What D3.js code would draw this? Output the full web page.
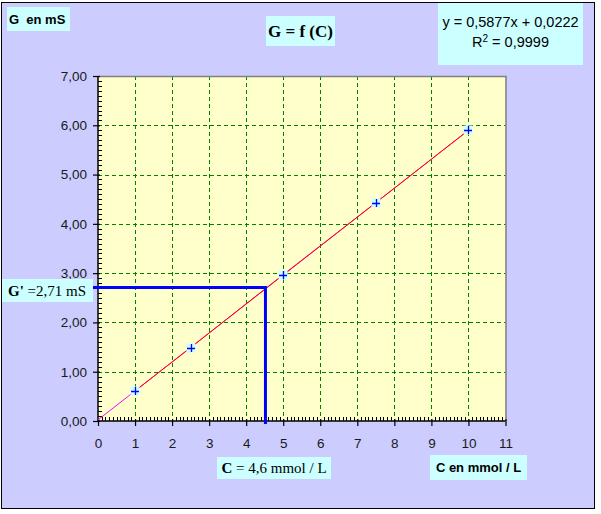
<!DOCTYPE html>
<html><head><meta charset="utf-8">
<script src="https://cdn.jsdelivr.net/npm/d3@7"></script>
<style>body{margin:0;background:#fff}svg{display:block}</style>
</head><body>
<script>
const concentrations = [1, 2.5, 5, 7.5, 10];
const conductances = [0.61, 1.49, 2.97, 4.43, 5.90];
const slope = 0.5877, intercept = 0.0222;
const xTicks = [0,1,2,3,4,5,6,7,8,9,10,11];
const yTicks = [0,1,2,3,4,5,6,7];
const readG = 2.71, readC = 4.52; // drawn reading position (label says 4,6)

const W = 601, H = 514;
const svg = d3.select("body").append("svg").attr("width", W).attr("height", H);
svg.append("rect").attr("x",1.5).attr("y",2.5).attr("width",593).attr("height",506)
  .attr("fill","#CCCCFF").attr("stroke","#000").attr("stroke-width",1);

const x = d3.scaleLinear().domain([0,11]).range([98,505.5]);
const y = d3.scaleLinear().domain([0,7]).range([421,76]);

svg.append("rect").attr("x",x(0)).attr("y",y(7)).attr("width",x(11)-x(0)).attr("height",y(0)-y(7))
  .attr("fill","#FFFFCC");
// grid
const g = svg.append("g");
g.selectAll(".vg").data(xTicks.filter(d=>d>0&&d<11)).enter().append("line")
  .attr("x1",d=>Math.round(x(d))+0.5).attr("x2",d=>Math.round(x(d))+0.5).attr("y1",y(7)).attr("y2",y(0))
  .attr("stroke","#008000").attr("stroke-dasharray","4,3");
g.selectAll(".hg").data(yTicks.filter(d=>d>0&&d<7)).enter().append("line")
  .attr("y1",d=>Math.round(y(d))+0.5).attr("y2",d=>Math.round(y(d))+0.5).attr("x1",x(0)).attr("x2",x(11))
  .attr("stroke","#008000").attr("stroke-dasharray","4,3");
// top/right border gray
svg.append("path").attr("d",`M${x(0)},${y(7)+0.5}H${x(11)+0.5}V${y(0)}`).attr("fill","none").attr("stroke","#808080").attr("stroke-width",1.5);

// axes
const yAxis = d3.axisLeft(y).tickValues(yTicks).tickFormat(d=>d3.format(".2f")(d).replace(".",",")).tickSize(5).tickPadding(6);
const ya = svg.append("g").attr("transform",`translate(${x(0)},0)`).call(yAxis);
const xAxis = d3.axisBottom(x).tickValues(xTicks).tickFormat(d=>d).tickSize(5).tickPadding(12);
const xa = svg.append("g").attr("transform",`translate(0,${y(0)})`).call(xAxis);
[ya,xa].forEach(a=>{
  a.select(".domain").attr("stroke","#000").attr("stroke-width",1.5);
  a.selectAll(".tick line").attr("stroke","#000").attr("stroke-width",1.2);
  a.selectAll("text").attr("font-family","Liberation Sans, Arial").attr("font-size",13.5).attr("fill","#1a1a1a");
});
ya.select(".domain").attr("d",`M0,${y(0)}V${y(7)}`);
xa.select(".domain").attr("d",`M${x(0)},0H${x(11)}`);
xa.selectAll(".tick line").attr("y1",-2);
ya.selectAll(".tick line").attr("x1",2);
// minor ticks
const minorY = d3.range(0,70).map(i=>i/10).filter(v=>Math.abs(v-Math.round(v))>1e-6);
svg.append("g").selectAll("line").data(minorY).enter().append("line")
  .attr("x1",x(0)).attr("x2",x(0)+4).attr("y1",d=>Math.round(y(d))+0.5).attr("y2",d=>Math.round(y(d))+0.5)
  .attr("stroke","#000");
const minorX = d3.range(0,110).map(i=>i/10).filter(v=>Math.abs(v-Math.round(v))>1e-6);
svg.append("g").selectAll("line").data(minorX).enter().append("line")
  .attr("y1",y(0)).attr("y2",y(0)-4).attr("x1",d=>Math.round(x(d))+0.5).attr("x2",d=>Math.round(x(d))+0.5)
  .attr("stroke","#000");

// trendline (magenta) and series (red)
svg.append("line").attr("x1",x(0)).attr("y1",y(intercept)).attr("x2",x(10)).attr("y2",y(slope*10+intercept))
  .attr("stroke","#FF00FF").attr("stroke-width",1);
svg.append("path").datum(concentrations.map((c,i)=>[c,conductances[i]]))
  .attr("d",d3.line().x(d=>x(d[0])).y(d=>y(d[1]))).attr("fill","none").attr("stroke","#FF0000").attr("stroke-width",1);

// reading lines
svg.append("path").attr("d",`M93,${y(readG)}H${x(readC)}V${y(0)+3}`).attr("fill","none").attr("stroke","#0000FF").attr("stroke-width",3);

// markers
const mk = svg.append("g").selectAll("g").data(concentrations.map((c,i)=>[c,conductances[i]])).enter().append("g")
  .attr("transform",d=>`translate(${Math.round(x(d[0]))},${Math.round(y(d[1]))})`);
mk.append("rect").attr("x",-4.5).attr("y",-4.5).attr("width",9).attr("height",9).attr("fill","#CCFFFF");
mk.append("path").attr("d","M-4,0.5H4M0.5,-4V4").attr("stroke","#0000FF").attr("stroke-width",1.3);

// labels
function box(x0,y0,w,h){svg.append("rect").attr("x",x0).attr("y",y0).attr("width",w).attr("height",h).attr("fill","#CCFFFF");}
box(7,7,63,24);
svg.append("text").attr("x",9).attr("y",24).attr("font-family","Liberation Sans, Arial").attr("font-weight","bold").attr("font-size",13).attr("xml:space","preserve").text("G  en mS");
box(266,16,69,30);
svg.append("text").attr("x",300.5).attr("y",37).attr("text-anchor","middle").attr("font-family","Liberation Serif, Times New Roman").attr("font-weight","bold").attr("font-size",17).text("G = f (C)");
box(438,3,145,62);
const eq = svg.append("text").attr("font-family","Liberation Sans, Arial").attr("font-size",14.5).attr("text-anchor","middle");
eq.append("tspan").attr("x",510.5).attr("y",27).text("y = 0,5877x + 0,0222");
const r2 = eq.append("tspan").attr("x",510.5).attr("y",47);
r2.append("tspan").text("R");
r2.append("tspan").attr("dy",-5).attr("font-size",10).text("2");
r2.append("tspan").attr("dy",5).text(" = 0,9999");
box(2,279,91,23);
const gl = svg.append("text").attr("x",8).attr("y",296).attr("font-family","Liberation Serif, Times New Roman").attr("font-size",15);
gl.append("tspan").attr("font-weight","bold").text("G'");
gl.append("tspan").text(" =2,71 mS");
box(217,457,114,22);
const cl = svg.append("text").attr("x",274).attr("y",473).attr("text-anchor","middle").attr("font-family","Liberation Serif, Times New Roman").attr("font-size",15);
cl.append("tspan").attr("font-weight","bold").text("C");
cl.append("tspan").text(" = 4,6 mmol / L");
box(430,455,97,25);
svg.append("text").attr("x",478.5).attr("y",472).attr("text-anchor","middle").attr("font-family","Liberation Sans, Arial").attr("font-weight","bold").attr("font-size",13).text("C en mmol / L");
</script>
</body></html>
